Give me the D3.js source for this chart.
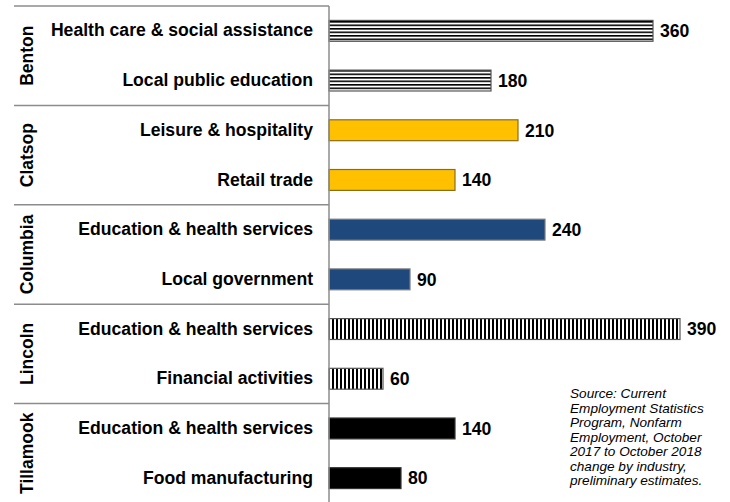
<!DOCTYPE html>
<html>
<head>
<meta charset="utf-8">
<script src="https://cdn.jsdelivr.net/npm/d3@7"></script>
<style>
  body { margin: 0; background: #fff; }
  text { font-family: Arial, "Liberation Sans", sans-serif; }
</style>
</head>
<body>
<svg width="730" height="502"></svg>
<script>
// counties, industries and over-the-year change
const counties = ['Benton', 'Clatsop', 'Columbia', 'Lincoln', 'Tillamook'];
const industries = [
    'Health care & social assistance', 'Local public education',
    'Leisure & hospitality', 'Retail trade',
    'Education & health services', 'Local government',
    'Education & health services', 'Financial activities',
    'Education & health services', 'Food manufacturing'
];
const rowCounty = ['Benton', 'Benton', 'Clatsop', 'Clatsop', 'Columbia', 'Columbia', 'Lincoln', 'Lincoln', 'Tillamook', 'Tillamook'];
const changes = [360, 180, 210, 140, 240, 90, 390, 60, 140, 80];
const sourceLines = ['Source: Current', 'Employment Statistics', 'Program, Nonfarm', 'Employment, October',
    '2017 to October 2018', 'change by industry,', 'preliminary estimates.'];

const svg = d3.select('svg');
const defs = svg.append('defs');

// stripe patterns
const ph = defs.append('pattern').attr('id', 'hstripe').attr('patternUnits', 'userSpaceOnUse')
    .attr('width', 8).attr('height', 3.5);
ph.append('rect').attr('width', 8).attr('height', 3.5).attr('fill', '#fff');
ph.append('rect').attr('y', 0).attr('width', 8).attr('height', 1.6).attr('fill', '#000');
const pv = defs.append('pattern').attr('id', 'vstripe').attr('patternUnits', 'userSpaceOnUse')
    .attr('width', 4).attr('height', 8);
pv.append('rect').attr('width', 4).attr('height', 8).attr('fill', '#fff');
pv.append('rect').attr('x', 0).attr('width', 2).attr('height', 8).attr('fill', '#000');

const fills = { Benton: 'url(#hstripe)', Clatsop: '#FFC000', Columbia: '#1F497D', Lincoln: 'url(#vstripe)', Tillamook: '#000' };
const strokes = { Benton: '#555', Clatsop: '#8a6d1a', Columbia: '#7a7a7a', Lincoln: '#555', Tillamook: '#333' };

const rows = d3.range(changes.length);
const x = d3.scaleLinear().domain([0, 400]).range([329, 689]);
const y = d3.scaleBand().domain(rows).range([6, 503]).paddingInner(0.58).paddingOuter(0.29);
const step = y.step();

// county separators
svg.append('g').selectAll('line').data(counties.concat(['end']))
    .join('line')
    .attr('x1', 14).attr('x2', 329)
    .attr('y1', (d, i) => 6 + i * 2 * step).attr('y2', (d, i) => 6 + i * 2 * step)
    .attr('stroke', '#8c8c8c').attr('stroke-width', 1.5);

// county labels
svg.append('g').selectAll('text').data(counties)
    .join('text')
    .attr('transform', (d, i) => `translate(33,${6 + (i + 0.5) * 2 * step}) rotate(-90)`)
    .attr('text-anchor', 'middle')
    .attr('font-size', 17.5).attr('font-weight', 'bold')
    .text(d => d);

// category axis
const yAxis = d3.axisLeft(y).tickSize(0).tickPadding(16).tickFormat(i => industries[i]);
const ag = svg.append('g').attr('transform', `translate(${x(0)},0)`).call(yAxis);
ag.select('.domain').remove();
ag.selectAll('text').attr('font-size', 17.6).attr('font-weight', 'bold').attr('fill', '#000')
    .style('font-family', 'Arial, "Liberation Sans", sans-serif');

// bars
svg.append('g').selectAll('rect').data(rows)
    .join('rect')
    .attr('x', x(0)).attr('y', i => y(i))
    .attr('width', i => x(changes[i]) - x(0)).attr('height', y.bandwidth())
    .attr('fill', i => fills[rowCounty[i]])
    .attr('stroke', i => strokes[rowCounty[i]]).attr('stroke-width', 1.2);

// axis line
svg.append('line').attr('x1', x(0)).attr('x2', x(0)).attr('y1', 6).attr('y2', 502)
    .attr('stroke', '#8c8c8c').attr('stroke-width', 1.5);

// value labels
svg.append('g').selectAll('text').data(rows)
    .join('text')
    .attr('x', i => x(changes[i]) + 7).attr('y', i => y(i) + y.bandwidth() / 2)
    .attr('dy', '0.36em')
    .attr('font-size', 17.6).attr('font-weight', 'bold')
    .text(i => changes[i]);

// source note
svg.append('text').attr('x', 570).attr('y', 398)
    .attr('font-size', 13.6).attr('font-style', 'italic')
    .selectAll('tspan').data(sourceLines)
    .join('tspan').attr('x', 570).attr('dy', (d, i) => i === 0 ? 0 : 14.5)
    .text(d => d);
</script>
</body>
</html>
